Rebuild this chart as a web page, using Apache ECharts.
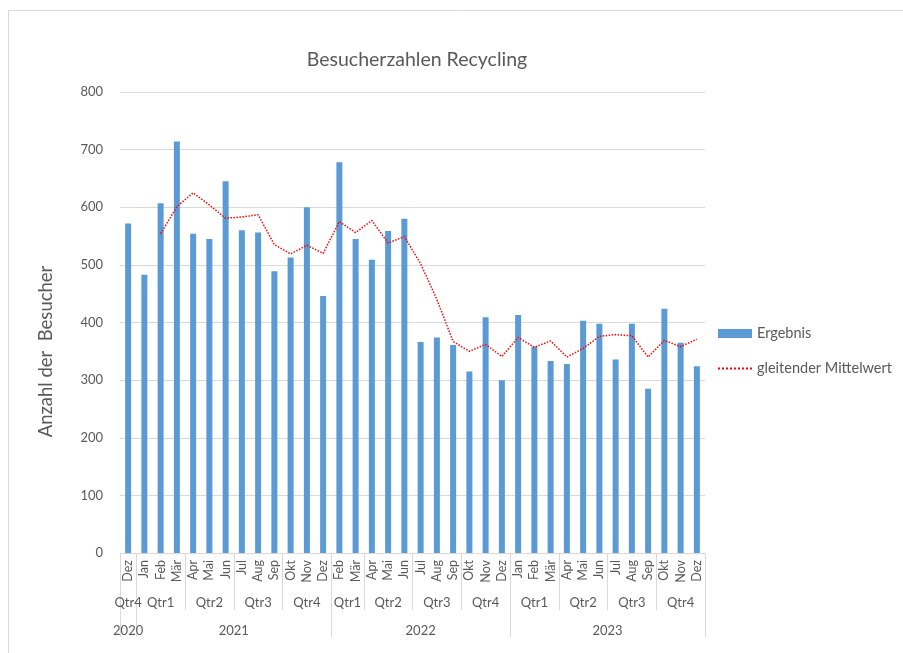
<!DOCTYPE html>
<html>
<head>
<meta charset="utf-8">
<script src="https://cdn.jsdelivr.net/npm/echarts@6/dist/echarts.min.js"></script>
<style>html,body{margin:0;padding:0;background:#fff;}#c{width:903px;height:653px;}</style>
</head>
<body>
<div id="c"></div>
<script>
const months = ['Dez','Jan','Feb','Mär','Apr','Mai','Jun','Jul','Aug','Sep','Okt','Nov','Dez',
  'Feb','Mär','Apr','Mai','Jun','Jul','Aug','Sep','Okt','Nov','Dez',
  'Jan','Feb','Mär','Apr','Mai','Jun','Jul','Aug','Sep','Okt','Nov','Dez'];
const ergebnis = [572,483,607,714,554,545,645,560,556,489,513,600,446,
  678,545,509,559,580,366,374,361,315,409,300,
  413,358,333,328,403,398,336,398,285,424,365,324];
const mittelwert = [null,null,554,601,625,604,581,583,587,535,519,534,520,
  575,556,577,538,549,502,440,367,350,362,341,
  374,357,368,340,355,376,379,377,340,369,358,371];
const quarterLabels = ['Qtr4','Qtr1','Qtr2','Qtr3','Qtr4','Qtr1','Qtr2','Qtr3','Qtr4','Qtr1','Qtr2','Qtr3','Qtr4'];
const quarterSizes = [1,3,3,3,3,2,3,3,3,3,3,3,3];
const yearLabels = ['2020','2021','2022','2023'];
const yearSizes = [1,12,11,12];
const yTicks = [0,100,200,300,400,500,600,700,800];

function groups(sizes, labels){
  const bounds=[0], centers=[], map={};
  let s=0;
  sizes.forEach((n,i)=>{ const c=s+n/2; centers.push(c); map[c]=labels[i]; s+=n; bounds.push(s); });
  return {bounds, centers, map};
}
const q = groups(quarterSizes, quarterLabels);
const yr = groups(yearSizes, yearLabels);
const gridColor = '#d9d9d9';
const txt = '#595959';
const font = 'Lato, "Liberation Sans", sans-serif';

const chart = echarts.init(document.getElementById('c'));
chart.setOption({
  animation:false,
  textStyle:{fontFamily:font},
  graphic:[{type:'rect',shape:{x:8.5,y:10.5,width:1000,height:1000},style:{fill:'none',stroke:'#d9d9d9',lineWidth:1},silent:true}],
  title:{text:'Besucherzahlen Recycling',left:412,textAlign:'center',top:45,
    textStyle:{fontSize:19.5,fontWeight:'normal',color:txt,fontFamily:font}},
  legend:{orient:'vertical',left:712,top:321,itemWidth:34,itemHeight:9,itemGap:20,
    textStyle:{fontSize:14.5,color:txt,fontFamily:font},
    data:[{name:'Ergebnis',icon:'rect'},{name:'gleitender Mittelwert',itemStyle:{opacity:0}}]},
  grid:{left:120,right:198,top:92,bottom:100,containLabel:false},
  xAxis:[
    {type:'category',data:months,boundaryGap:true,position:'bottom',
      axisLine:{show:true,lineStyle:{color:gridColor}},axisTick:{show:false},
      axisLabel:{rotate:90,interval:0,fontSize:12.5,color:txt,margin:7,fontFamily:font}},
    {type:'value',min:0,max:36,position:'bottom',offset:0,
      axisLine:{show:false},splitLine:{show:false},
      axisTick:{show:true,customValues:q.bounds,length:57,lineStyle:{color:gridColor}},
      axisLabel:{customValues:q.centers,formatter:v=>q.map[v]||'',fontSize:13,color:txt,margin:43,fontFamily:font}},
    {type:'value',min:0,max:36,position:'bottom',offset:0,
      axisLine:{show:false},splitLine:{show:false},
      axisTick:{show:true,customValues:yr.bounds,length:84,lineStyle:{color:gridColor}},
      axisLabel:{customValues:yr.centers,formatter:v=>yr.map[v]||'',fontSize:13,color:txt,margin:71,fontFamily:font}}
  ],
  yAxis:{type:'value',min:0,max:800,interval:100,
    name:'Anzahl der  Besucher',nameLocation:'middle',nameGap:64,nameRotate:90,
    nameTextStyle:{fontSize:18.5,color:txt,fontFamily:font,padding:[0,58,0,0]},
    axisLine:{show:false},axisTick:{show:false},
    splitLine:{lineStyle:{color:gridColor}},
    axisLabel:{fontSize:13,color:txt,margin:17,fontFamily:font,
      customValues:yTicks}},
  series:[
    {name:'Ergebnis',type:'bar',data:ergebnis,barWidth:6,xAxisIndex:0,
      itemStyle:{color:'#5b9bd5'}},
    {name:'gleitender Mittelwert',type:'line',data:mittelwert,xAxisIndex:0,
      symbol:'none',smooth:false,connectNulls:false,z:5,
      lineStyle:{color:'#ff0000',width:1.5,type:'dotted'},itemStyle:{color:'#ff0000'}}
  ]
});
</script>
</body>
</html>
